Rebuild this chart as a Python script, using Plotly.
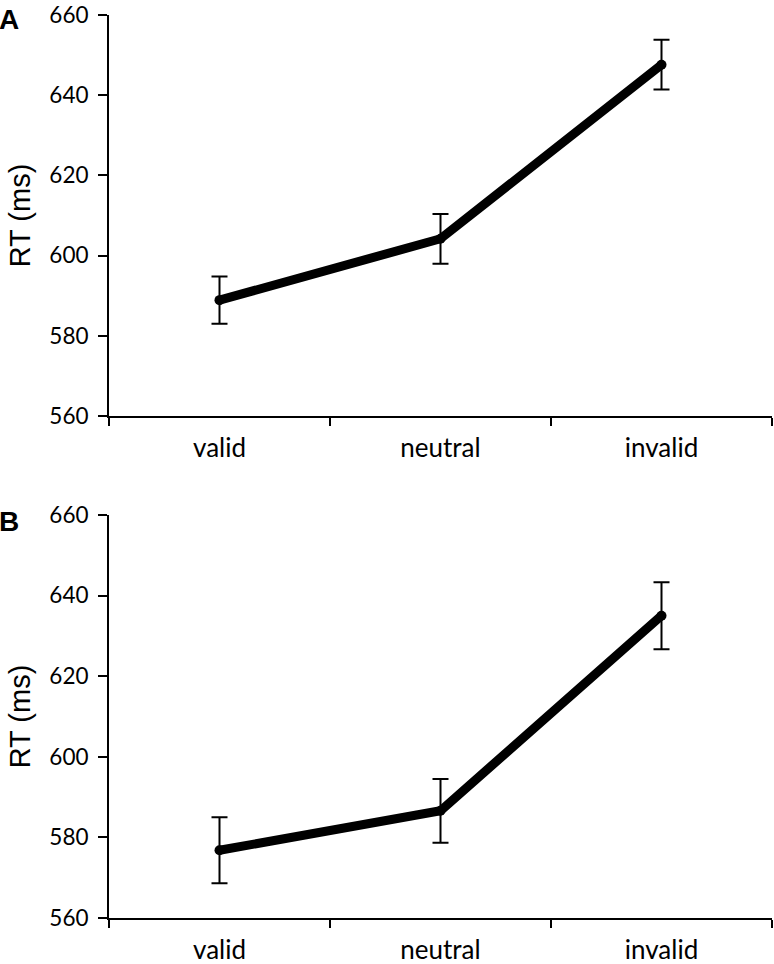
import plotly.graph_objects as go

categories = ["valid", "neutral", "invalid"]
rt_a = [588.9, 604.2, 647.6]
err_a = [5.9, 6.2, 6.2]
rt_b = [576.8, 586.6, 635.0]
err_b = [8.2, 7.9, 8.3]
y_ticks = [560, 580, 600, 620, 640, 660]

FONT = "Lato"

fig = go.Figure()
for vals, errs, xa, ya in [(rt_a, err_a, "x", "y"), (rt_b, err_b, "x2", "y2")]:
    fig.add_trace(go.Scatter(
        x=categories, y=vals, xaxis=xa, yaxis=ya, mode="lines+markers",
        line=dict(color="black", width=9),
        marker=dict(color="black", size=10),
        error_y=dict(type="data", array=errs, visible=True, color="black",
                     thickness=2, width=8),
        showlegend=False, cliponaxis=False,
    ))

xcommon = dict(type="category", range=[-0.5, 2.5], showline=True, linecolor="black",
               linewidth=2, ticks="outside", tickson="boundaries", ticklen=8,
               tickwidth=2, tickcolor="black", showgrid=False, zeroline=False,
               automargin=False, ticklabelstandoff=8,
               tickfont=dict(family=FONT, size=26, color="black"))
ycommon = dict(range=[560, 660], tickvals=y_ticks, showline=True, linecolor="black",
               linewidth=2, ticks="outside", ticklen=9, tickwidth=2, tickcolor="black",
               showgrid=False, zeroline=False, automargin=False,
               ticklabelstandoff=5, ticklabeloverflow="allow",
               tickfont=dict(family=FONT, size=22.5, color="black"),
               title=dict(text="RT (ms)", font=dict(family="Liberation Sans", size=29, color="black"),
                          standoff=10))

fig.update_layout(
    width=774, height=964,
    margin=dict(l=109, r=2, t=15, b=46),
    paper_bgcolor="white", plot_bgcolor="white",
    xaxis=dict(domain=[0, 1], anchor="y", **xcommon),
    yaxis=dict(domain=[0.5559, 1], anchor="x", **ycommon),
    xaxis2=dict(domain=[0, 1], anchor="y2", **xcommon),
    yaxis2=dict(domain=[0, 0.4463], anchor="x2", **ycommon),
    annotations=[
        dict(text="<b>A</b>", xref="paper", yref="paper", x=-109/663, y=1,
             xanchor="left", yanchor="top", showarrow=False, xshift=-3, yshift=13,
             font=dict(family="Liberation Sans", size=28, color="black")),
        dict(text="<b>B</b>", xref="paper", yref="paper", x=-109/663, y=0.4463,
             xanchor="left", yanchor="top", showarrow=False, xshift=-3, yshift=11,
             font=dict(family="Liberation Sans", size=28, color="black")),
    ],
)

fig.write_html(
    "out.html",
    config={"displayModeBar": False},
    post_script="document.body.style.margin='0';document.documentElement.style.overflow='hidden';",
)
